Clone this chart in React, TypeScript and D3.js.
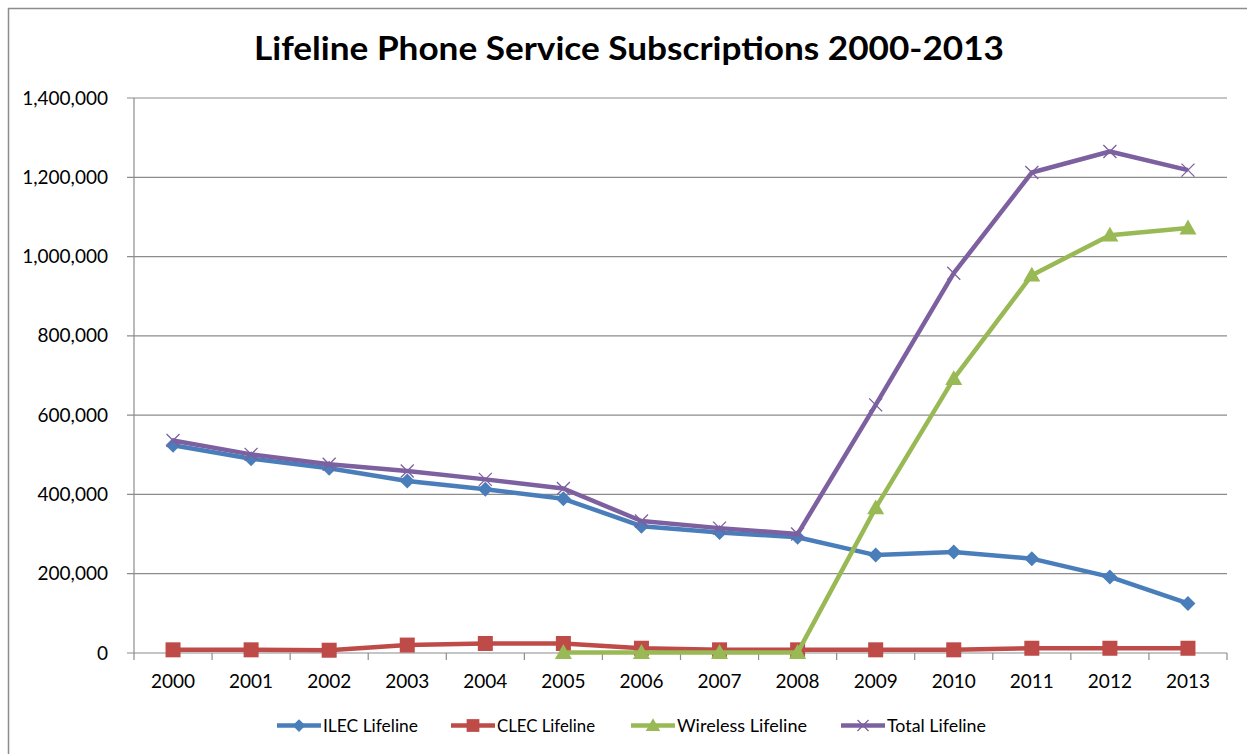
import React from "react";
import * as d3 from "d3";

const years = ["2000","2001","2002","2003","2004","2005","2006","2007","2008","2009","2010","2011","2012","2013"];
const ilec = [524000, 490000, 466000, 434000, 413000, 389000, 320000, 304000, 292000, 247000, 255000, 238000, 192000, 125000];
const clec = [8000, 8000, 7000, 20000, 24000, 24000, 12000, 8000, 8000, 8000, 8000, 12000, 12000, 12000];
const wireless: (number | null)[] = [null, null, null, null, null, 1000, 1000, 1000, 1000, 366000, 692000, 953000, 1054000, 1072000];
const total = [536000, 501000, 476000, 459000, 438000, 415000, 333000, 315000, 300000, 626000, 958000, 1212000, 1265000, 1218000];
const yTicks = [0, 200000, 400000, 600000, 800000, 1000000, 1200000, 1400000];

const seriesNames = ["ILEC Lifeline", "CLEC Lifeline", "Wireless Lifeline", "Total Lifeline"];
const seriesColors = ["#4A7EBB", "#BE4B48", "#98B954", "#7D60A0"];
const seriesMarkers = ["diamond", "square", "triangle", "x"];

const L = 134, R = 1227, T = 98, B = 653;

function Marker({ type, x, y, color, k = 1 }: { type: string; x: number; y: number; color: string; k?: number }) {
  if (type === "diamond") {
    const s = 7.5 * k;
    return <path d={`M${x},${y - s}L${x + s},${y}L${x},${y + s}L${x - s},${y}Z`} fill={color} />;
  }
  if (type === "square") {
    const s = 7.5 * k;
    return <rect x={x - s} y={y - s} width={2 * s} height={2 * s} fill={color} />;
  }
  if (type === "triangle") {
    const s = 8.5 * k;
    return <path d={`M${x},${y - s}L${x + s},${y + s * 0.75}L${x - s},${y + s * 0.75}Z`} fill={color} />;
  }
  const s = 6.5 * k;
  return (
    <path d={`M${x - s},${y - s}L${x + s},${y + s}M${x - s},${y + s}L${x + s},${y - s}`} stroke={color} strokeWidth={1.3} fill="none" />
  );
}

export default function App() {
  const x = d3.scaleBand<string>().domain(years).range([L, R]);
  const y = d3.scaleLinear().domain([0, 1400000]).range([B, T]);
  const cx = (yr: string) => (x(yr) as number) + x.bandwidth() / 2;
  const fmt = d3.format(",");
  const data: (number | null)[][] = [ilec, clec, wireless, total];
  const line = d3
    .line<number | null>()
    .defined((d) => d !== null)
    .x((_, i) => cx(years[i]))
    .y((d) => y(d as number));

  const legendX = [277, 451, 631, 841];
  const legendW = [95, 98, 130, 99];

  return (
    <svg width={1247} height={754} style={{ position: "absolute", left: 0, top: 0 }} fontFamily="Lato, 'Open Sans', sans-serif">
      <rect x={0} y={0} width={1247} height={754} fill="#fff" />
      <path d="M8.5,800V8.5H1300" stroke="#8c8c8c" strokeWidth={1.5} fill="none" />
      <text x={629} y={60} textAnchor="middle" fontSize={33} fontWeight={700} textLength={750} lengthAdjust="spacingAndGlyphs" fill="#000">
        Lifeline Phone Service Subscriptions 2000-2013
      </text>
      {yTicks.map((t) => (
        <g key={t}>
          <line x1={L - 7} x2={R} y1={y(t)} y2={y(t)} stroke="#8c8c8c" strokeWidth={1.2} />
          <text x={108} y={y(t) + 6.5} textAnchor="end" fontSize={19} fill="#000">
            {fmt(t)}
          </text>
        </g>
      ))}
      <line x1={L} x2={L} y1={T} y2={B + 7} stroke="#8c8c8c" strokeWidth={1.2} />
      {years.map((yr) => (
        <line key={"t" + yr} x1={(x(yr) as number) + x.bandwidth()} x2={(x(yr) as number) + x.bandwidth()} y1={B} y2={B + 7} stroke="#8c8c8c" strokeWidth={1.2} />
      ))}
      {years.map((yr) => (
        <text key={yr} x={cx(yr)} y={688} textAnchor="middle" fontSize={19} fill="#000">
          {yr}
        </text>
      ))}
      {data.map((arr, si) => (
        <g key={si}>
          <path d={line(arr) || ""} stroke={seriesColors[si]} strokeWidth={4.5} fill="none" strokeLinejoin="round" />
          {arr.map((v, i) =>
            v === null ? null : <Marker key={i} type={seriesMarkers[si]} x={cx(years[i])} y={y(v)} color={seriesColors[si]} />
          )}
        </g>
      ))}
      {seriesNames.map((n, si) => (
        <g key={n}>
          <line x1={legendX[si]} x2={legendX[si] + 44} y1={725.5} y2={725.5} stroke={seriesColors[si]} strokeWidth={4.5} />
          <Marker type={seriesMarkers[si]} x={legendX[si] + 22} y={725.5} color={seriesColors[si]} k={0.85} />
          <text x={legendX[si] + 46} y={731.5} fontSize={17} fill="#000" textLength={legendW[si]} lengthAdjust="spacingAndGlyphs">
            {n}
          </text>
        </g>
      ))}
    </svg>
  );
}
